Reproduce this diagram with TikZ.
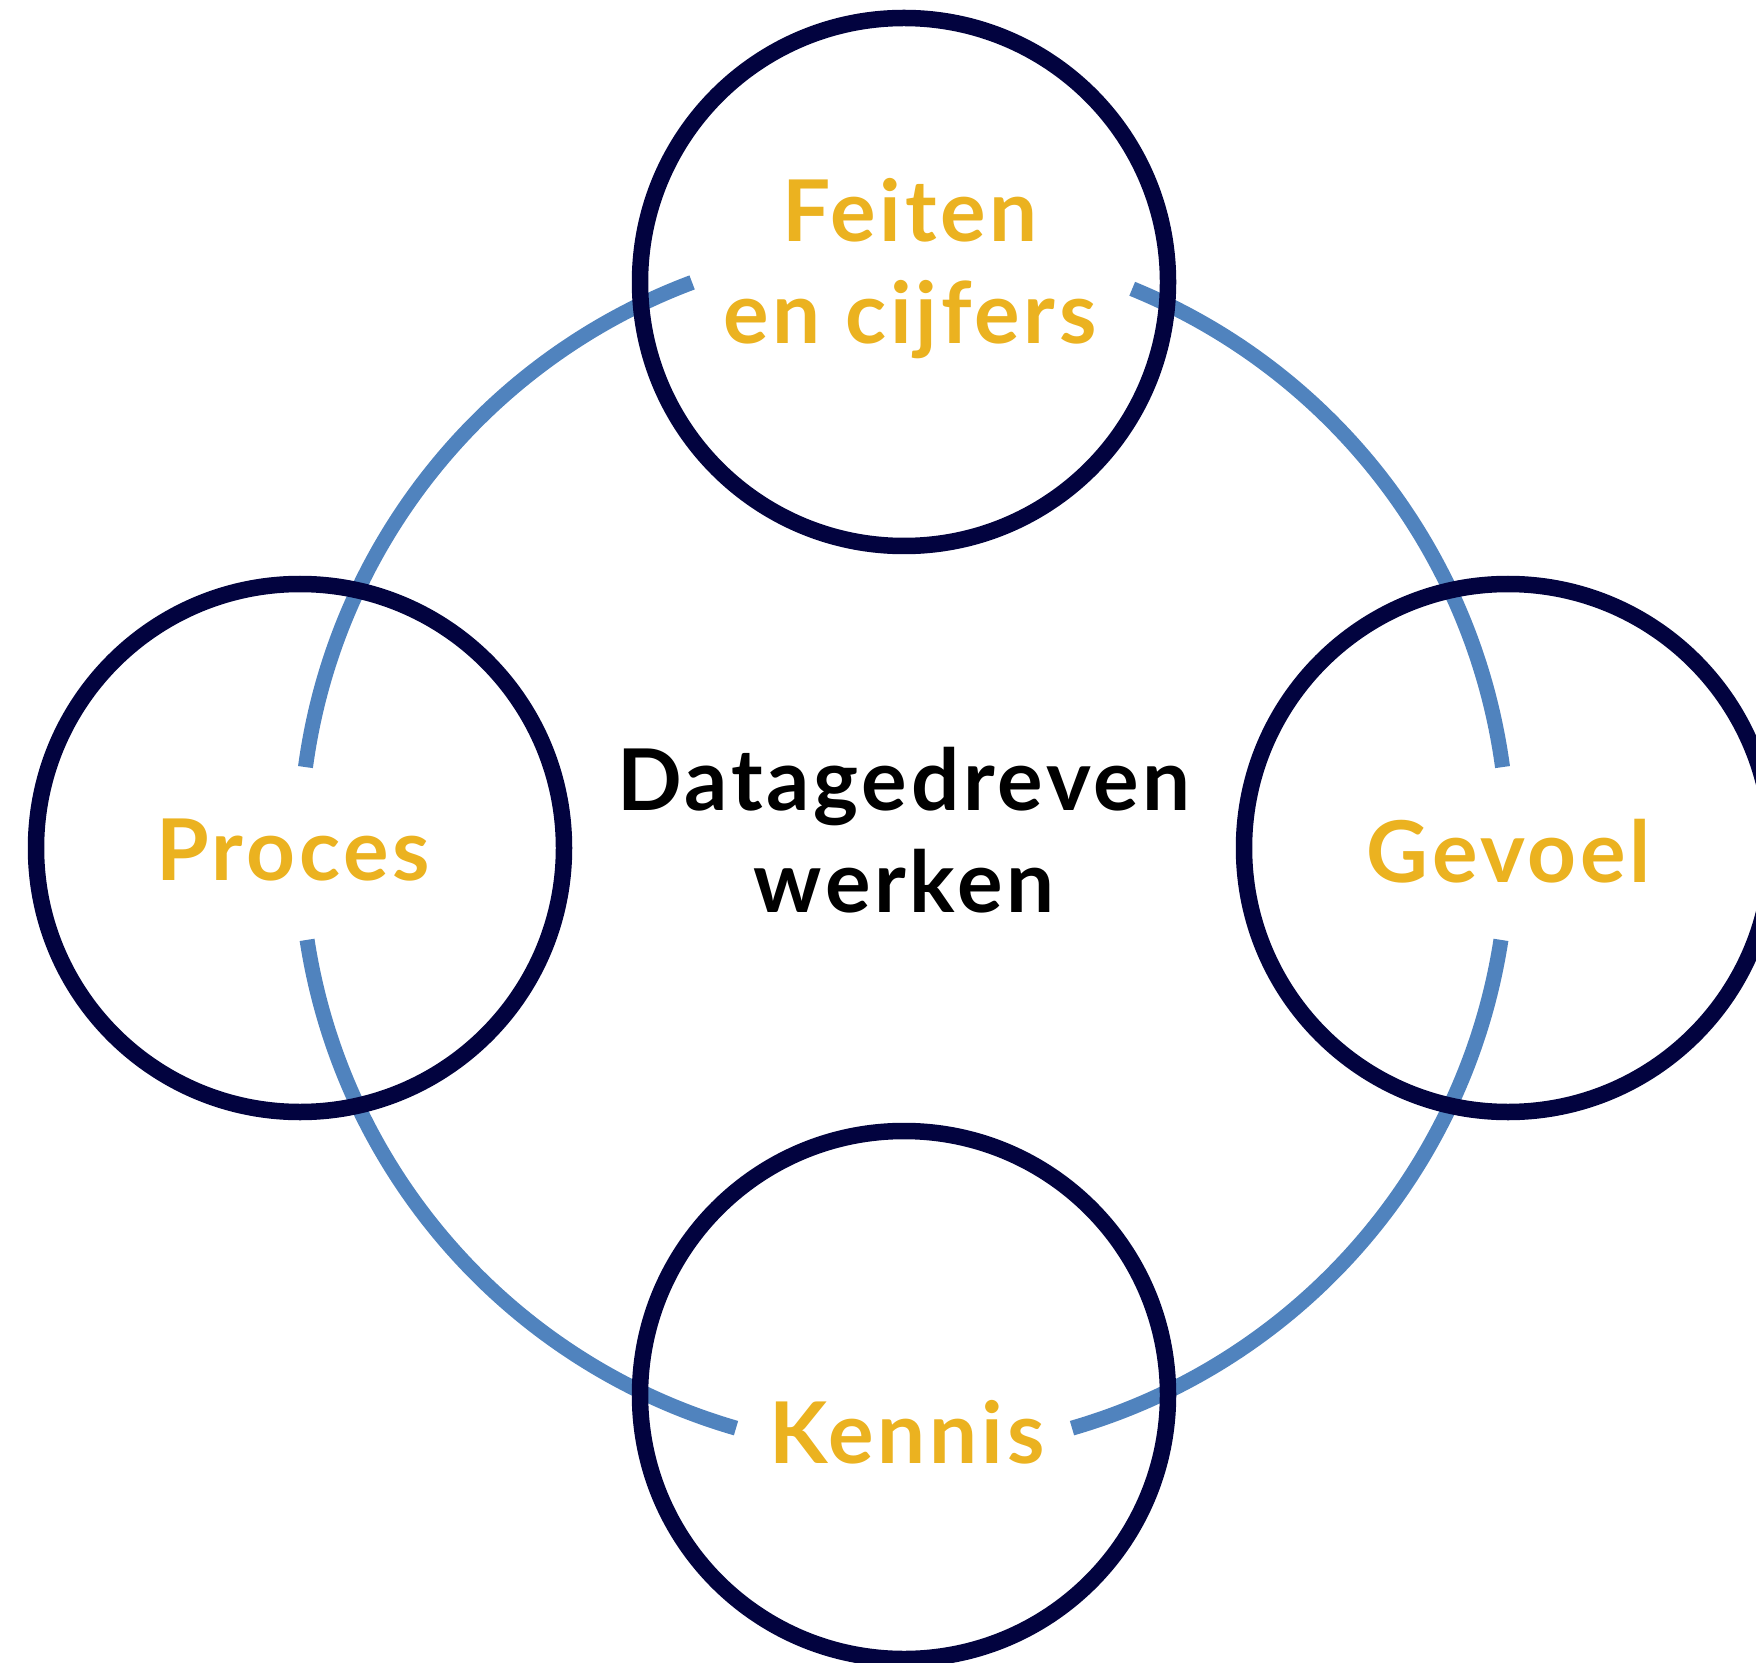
\documentclass[tikz,border=0pt]{standalone}
\usepackage{fontspec}
\setmainfont{Lato}[LetterSpace=4.5]
\usepackage{tikz}
\usetikzlibrary{positioning,shapes}

\definecolor{navy}{HTML}{02033F}
\definecolor{ringblue}{HTML}{5083BE}
\definecolor{gold}{HTML}{EBB220}

\tikzstyle{topic} = [circle, draw=navy, line width=8.25pt, minimum size=264pt, inner sep=0pt]
\tikzstyle{link} = [draw=ringblue, line width=7.5pt, line cap=butt]
\tikzstyle{label} = [anchor=base, inner sep=0pt, align=center, text=gold, font=\fontsize{42.6pt}{51pt}\selectfont\bfseries]

\begin{document}
\begin{tikzpicture}[x=0.5pt, y=-0.5pt]
\useasboundingbox (0,0) rectangle (1756,1663);
\clip (0,0) rectangle (1756,1663);
\coordinate (hub) at (904,848);

% blue ring pieces
\draw [link] (hub) ++(249.46:604) arc[start angle=249.46, end angle=187.7, radius=604];
\draw [link] (hub) ++(171.25:604) arc[start angle=171.25, end angle=106.15, radius=604];
\draw [link] (hub) ++(73.85:604) arc[start angle=73.85, end angle=8.75, radius=604];
\draw [link] (hub) ++(-7.7:604) arc[start angle=-7.7, end angle=-67.8, radius=604];

\node (topcircle) [topic] at (904,282) {};
\node (leftcircle) [topic] at (300,848) {};
\node (rightcircle) [topic] at (1508,848) {};
\node (bottomcircle) [topic] at (904,1395) {};

\node (feiten) [label] at (910,344) {Feiten\\en cijfers};
\node (proces) [label] at (293,880) {Proces};
\node (gevoel) [label] at (1509,882) {Gevoel};
\node (kennis) [label] at (907,1463) {Kennis};
\node (datagedreven) [label, text=black] at (904,912) {Datagedreven\\werken};

\end{tikzpicture}
\end{document}
